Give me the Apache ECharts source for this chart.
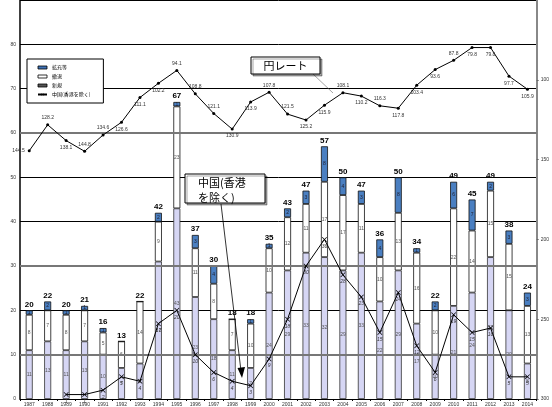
<!DOCTYPE html>
<html><head><meta charset="utf-8">
<script src="https://cdn.jsdelivr.net/npm/echarts@6/dist/echarts.min.js"></script>
<style>html,body{margin:0;padding:0;background:#fff}#c{width:552px;height:407px}</style>
</head><body><div id="c"></div>
<script>
const years = ['1987','1988','1989','1990','1991','1992','1993','1994','1995','1996','1997','1998','1999','2000','2001','2002','2003','2004','2005','2006','2007','2008','2009','2010','2011','2012','2013','2014'];
const seriesNames = ['拡充等','撤退','新規','中国(香港を除く)'];
const segBottom = [11,13,11,13,10,7,8,31,43,23,18,11,7,24,29,33,32,29,33,22,29,17,10,21,24,32,20,8];
const segMiddle = [8,7,8,7,5,6,14,9,23,11,8,7,10,10,12,11,17,17,11,10,13,16,10,22,14,15,15,13];
const segTop = [1,2,1,1,1,0,0,2,1,3,4,0,1,1,2,3,8,4,3,4,8,1,2,6,7,2,3,3];
const china = [null,null,1,1,2,5,4,17,20,10,6,4,3,9,18,30,36,28,23,15,24,12,6,19,15,16,5,5];
const yenRate = [144.5,128.2,138.1,144.8,134.6,126.6,111.1,102.2,94.1,108.8,121.1,130.9,113.9,107.8,121.5,125.2,115.9,108.1,110.2,116.3,117.8,103.4,93.6,87.8,79.8,79.8,97.7,105.9];
const leftTicks = [0,90,10];
const rightTicks = [50,300,50];

const totals = years.map((_, i) => segBottom[i] + segMiddle[i] + segTop[i]);
const yenPos = ['left','top','bottom','top','top','bottom','bottom','bottom','top','top','top','bottom','bottom','top','top','bottom','bottom','top','bottom','top','bottom','bottom','bottom','top','bottom','bottom','bottom','bottom'];

const chart = echarts.init(document.getElementById('c'), null, {renderer:'canvas'});
const inLabel = (color) => ({show:true, position:'inside', fontSize:5, color:color, fontFamily:'Liberation Sans',
  formatter: p => p.value ? String(p.value) : ''});
const xSym = 'path://M0,1L1,0L5,4L9,0L10,1L6,5L10,9L9,10L5,6L1,10L0,9L4,5Z';

chart.setOption({
  animation:false,
  backgroundColor:'#fff',
  textStyle:{fontFamily:'Liberation Sans, Noto Sans CJK JP'},
  grid:{left:20, right:9, top:-9, bottom:7, containLabel:false},
  legend:{
    left:27, top:59, orient:'vertical', itemWidth:9, itemHeight:3, itemGap:4,
    padding:[6,13,6,10], borderColor:'#000', borderWidth:1, backgroundColor:'#fff',
    textStyle:{fontSize:5, color:'#000', fontFamily:'Noto Sans CJK JP'},
    data:[
      {name:seriesNames[0], icon:'rect', itemStyle:{color:'#3f73b8', borderColor:'#000', borderWidth:0.8}},
      {name:seriesNames[1], icon:'rect', itemStyle:{color:'#fff', borderColor:'#000', borderWidth:0.8}},
      {name:seriesNames[2], icon:'rect', itemStyle:{color:'#555', borderColor:'#000', borderWidth:0.8}},
      {name:seriesNames[3]}
    ]
  },
  xAxis:{type:'category', data:years, boundaryGap:true,
    axisLine:{lineStyle:{color:'#000', width:1}},
    axisTick:{show:true, length:2, lineStyle:{color:'#000'}},
    axisLabel:{fontSize:5, color:'#333', margin:3, interval:0}},
  yAxis:[
    {type:'value', min:leftTicks[0], max:leftTicks[1], interval:leftTicks[2],
     axisLine:{show:true, lineStyle:{color:'#000', width:1.5}},
     axisTick:{show:false},
     axisLabel:{fontSize:5, color:'#333', margin:4, showMaxLabel:false},
     splitLine:{show:true, lineStyle:{color:'#000', width:1}}},
    {type:'value', min:rightTicks[0], max:rightTicks[1], interval:rightTicks[2], inverse:true, position:'right',
     axisLine:{show:true, lineStyle:{color:'#888', width:2}},
     axisTick:{show:true, length:2, inside:false, lineStyle:{color:'#666'}},
     axisLabel:{fontSize:5, color:'#333', margin:4, showMinLabel:false},
     splitLine:{show:false}}
  ],
  series:[
    {name:'_grid', type:'line', data:[], z:1, silent:true,
     markLine:{silent:true, symbol:'none', label:{show:false},
       lineStyle:{color:'#777', width:2, type:'solid'},
       data:[{yAxis:10},{yAxis:30},{yAxis:60}]}},
    {name:seriesNames[2], type:'bar', stack:'a', barWidth:7, z:3, data:segBottom,
     itemStyle:{color:'#d6d6f4', borderColor:'#333', borderWidth:0.8},
     label:inLabel('#555')},
    {name:seriesNames[1], type:'bar', stack:'a', barWidth:7, z:3, data:segMiddle,
     itemStyle:{color:'#fff', borderColor:'#111', borderWidth:0.8},
     label:inLabel('#555')},
    {name:seriesNames[0], type:'bar', stack:'a', barWidth:7, z:3, data:segTop,
     itemStyle:{color:'#4a7fc1', borderColor:'#111', borderWidth:0.8},
     label:inLabel('#223')},
    {name:'_total', type:'bar', stack:'a', barWidth:7, z:3, data:totals.map(() => 0),
     itemStyle:{color:'rgba(0,0,0,0)', borderWidth:0},
     label:{show:true, position:'top', distance:2, fontSize:8, fontWeight:'bold', color:'#000',
       fontFamily:'Liberation Sans Narrow, Liberation Sans',
       formatter: p => String(totals[p.dataIndex])}},
    {name:'円レート', type:'line', yAxisIndex:1, z:5, data:yenRate.map((v,i)=>({value:v, label:{position:yenPos[i]}})),
     symbol:'circle', symbolSize:3, itemStyle:{color:'#000'}, lineStyle:{color:'#000', width:1},
     label:{show:true, fontSize:5, color:'#333', distance:3}},
    {name:seriesNames[3], type:'line', yAxisIndex:0, z:6, data:china,
     symbol:xSym, symbolSize:5, itemStyle:{color:'#000'}, lineStyle:{color:'#000', width:1},
     label:{show:true, position:'bottom', fontSize:5, color:'#333', distance:2, fontStyle:'italic'}}
  ],
  graphic:[
    {type:'rect', z:100, shape:{x:251, y:57, width:69, height:17}, style:{fill:'#fff', stroke:'#000', lineWidth:1, shadowColor:'rgba(0,0,0,0.35)', shadowOffsetX:2, shadowOffsetY:2}},
    {type:'text', z:101, style:{x:285.5, y:65.5, text:'円レート', fontSize:11, fill:'#000', align:'center', verticalAlign:'middle', fontFamily:'Noto Sans CJK JP'}},
    {type:'line', z:99, shape:{x1:313, y1:74, x2:333, y2:93}, style:{stroke:'#666', lineWidth:0.6}},
    {type:'rect', z:100, shape:{x:185, y:174, width:80, height:29}, style:{fill:'#fff', stroke:'#000', lineWidth:1, shadowColor:'rgba(0,0,0,0.35)', shadowOffsetX:2, shadowOffsetY:2}},
    {type:'text', z:101, style:{x:198, y:183, text:'中国(香港', fontSize:11, fill:'#000', align:'left', verticalAlign:'middle', fontFamily:'Noto Sans CJK JP'}},
    {type:'text', z:101, style:{x:198, y:197.5, text:'を除く)', fontSize:11, fill:'#000', align:'left', verticalAlign:'middle', fontFamily:'Noto Sans CJK JP'}},
    {type:'line', z:99, shape:{x1:221, y1:204, x2:241, y2:371}, style:{stroke:'#000', lineWidth:0.8}},
    {type:'polygon', z:99, shape:{points:[[237.5,368],[245,367],[242,378]]}, style:{fill:'#000'}}
  ]
});
</script></body></html>
